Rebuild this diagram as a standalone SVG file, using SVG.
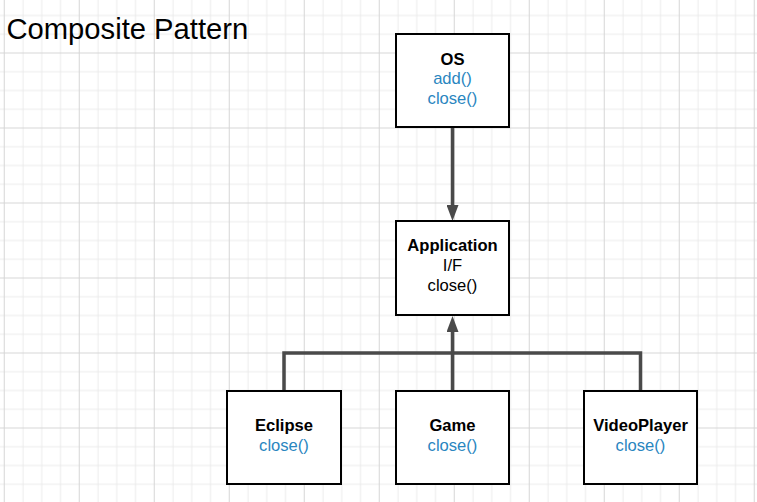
<svg xmlns="http://www.w3.org/2000/svg" width="757" height="502" viewBox="0 0 757 502">
  <defs>
    <pattern id="grid" x="3.75" y="52.5" width="75" height="75" patternUnits="userSpaceOnUse">
      <rect x="0" y="0" width="75" height="75" fill="#ffffff"/>
      <g fill="#ebebeb">
        <rect x="18.75" y="0" width="1" height="75"/>
        <rect x="37.5" y="0" width="1" height="75"/>
        <rect x="56.25" y="0" width="1" height="75"/>
        <rect x="0" y="18.75" width="75" height="1"/>
        <rect x="0" y="37.5" width="75" height="1"/>
        <rect x="0" y="56.25" width="75" height="1"/>
      </g>
      <g fill="#d6d6d6">
        <rect x="0" y="0" width="1" height="75"/>
        <rect x="0" y="0" width="75" height="1"/>
      </g>
    </pattern>
    <marker id="arrow" viewBox="0 0 16 12" markerWidth="16" markerHeight="12" refX="0" refY="6" orient="auto" markerUnits="userSpaceOnUse">
      <path d="M0,0 L16,6 L0,12 z" fill="#4a4a4a"/>
    </marker>
  </defs>
  <style>
    .box { fill: #ffffff; stroke: #000000; stroke-width: 2; }
    .conn { fill: none; stroke: #4a4a4a; stroke-width: 3.5; }
    text { font-family: "Liberation Sans", Arial, sans-serif; font-size: 16.6px; text-anchor: middle; fill: #000000; }
    .name { font-weight: bold; }
    .op { fill: #2a86bf; }
    .title { font-size: 29.2px; text-anchor: start; }
  </style>

  <rect x="0" y="0" width="757" height="502" fill="url(#grid)"/>

  <text class="title" x="6.5" y="38.5">Composite Pattern</text>

  <g id="connectors">
    <path class="conn" d="M452.5,127 L452.5,205" marker-end="url(#arrow)"/>
    <path class="conn" d="M284,391 L284,353 L640.5,353 L640.5,391"/>
    <path class="conn" d="M452.5,391 L452.5,332" marker-end="url(#arrow)"/>
  </g>

  <g id="os">
    <rect class="box" x="396" y="34" width="113" height="93"/>
    <text class="name" x="452.5" y="64.5">OS</text>
    <text class="op" x="452.5" y="84">add()</text>
    <text class="op" x="452.5" y="103.5">close()</text>
  </g>

  <g id="application">
    <rect class="box" x="396" y="221" width="113" height="94"/>
    <text class="name" x="452.5" y="251">Application</text>
    <text x="452.5" y="271">I/F</text>
    <text x="452.5" y="291">close()</text>
  </g>

  <g id="eclipse">
    <rect class="box" x="227" y="391" width="114" height="93"/>
    <text class="name" x="284" y="430.5">Eclipse</text>
    <text class="op" x="284" y="450.5">close()</text>
  </g>

  <g id="game">
    <rect class="box" x="396" y="391" width="113" height="93"/>
    <text class="name" x="452.5" y="430.5">Game</text>
    <text class="op" x="452.5" y="450.5">close()</text>
  </g>

  <g id="videoplayer">
    <rect class="box" x="584" y="391" width="113" height="93"/>
    <text class="name" x="640.5" y="430.5">VideoPlayer</text>
    <text class="op" x="640.5" y="450.5">close()</text>
  </g>
</svg>
